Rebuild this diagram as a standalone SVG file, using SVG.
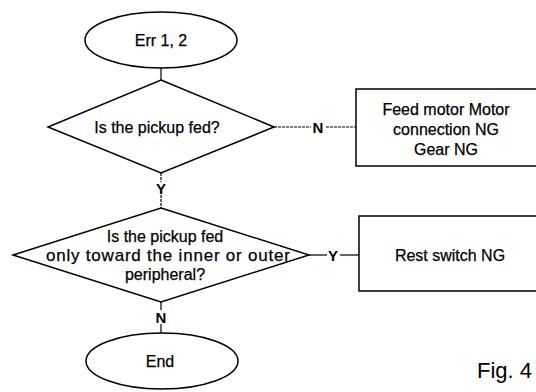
<svg xmlns="http://www.w3.org/2000/svg" width="536" height="392" viewBox="0 0 536 392">
<style>
.shape{fill:#fff;stroke:#000;stroke-width:1.5}
.t{font-family:"Liberation Sans",Arial,sans-serif;font-size:16px;fill:#000;stroke:#000;stroke-width:0.25;text-anchor:middle}
.lbl{font-family:"Liberation Sans",Arial,sans-serif;font-size:15px;font-weight:bold;fill:#000;text-anchor:middle}
.fig{font-family:"Liberation Sans",Arial,sans-serif;font-size:22px;fill:#000}
.c{stroke:#000;stroke-width:1.2;fill:none}
.d{stroke:#000;stroke-width:1.2;fill:none;stroke-dasharray:3 1}
</style>
<rect width="536" height="392" fill="#fff"/>
<g id="connectors">
<line class="c" x1="161" y1="68" x2="161" y2="80"/>
<line class="d" x1="274" y1="127" x2="311" y2="127"/>
<line class="d" x1="326" y1="127" x2="356" y2="127"/>
<text class="lbl" x="318" y="132.5">N</text>
<line class="d" x1="161" y1="173" x2="161" y2="182"/>
<text class="lbl" x="161" y="193.5">Y</text>
<line class="d" x1="161" y1="195" x2="161" y2="208"/>
<line class="c" x1="309" y1="255" x2="327" y2="255"/>
<text class="lbl" x="333" y="260.5">Y</text>
<line class="c" x1="340" y1="255" x2="359" y2="255"/>
<line class="c" x1="161" y1="302" x2="161" y2="310"/>
<text class="lbl" x="161" y="322.5">N</text>
<line class="c" x1="161" y1="324" x2="161" y2="333"/>
</g>
<g id="start">
<ellipse class="shape" cx="161" cy="40" rx="76" ry="28"/>
<text class="t" x="161" y="45.5">Err 1, 2</text>
</g>
<g id="decision1">
<polygon class="shape" points="161,80 274,127 161,173 48,127"/>
<text class="t" x="157" y="132.5">Is the pickup fed?</text>
</g>
<g id="box1">
<rect class="shape" x="356" y="89" width="186" height="77"/>
<text class="t" x="446" y="115">Feed motor Motor</text>
<text class="t" x="446" y="135">connection NG</text>
<text class="t" x="446" y="155">Gear NG</text>
</g>
<g id="decision2">
<polygon class="shape" points="161,208 309,255 161,302 13,255"/>
<text class="t" x="165" y="242">Is the pickup fed</text>
<text class="t" x="168" y="261" style="font-size:17px" textLength="244" lengthAdjust="spacing">only toward the inner or outer</text>
<text class="t" x="165" y="280">peripheral?</text>
</g>
<g id="box2">
<rect class="shape" x="359" y="216" width="183" height="75"/>
<text class="t" x="450" y="261">Rest switch NG</text>
</g>
<g id="end">
<ellipse class="shape" cx="162" cy="361" rx="76" ry="28"/>
<text class="t" x="160" y="367">End</text>
</g>
<text class="fig" x="477" y="378">Fig. 4</text>
</svg>
